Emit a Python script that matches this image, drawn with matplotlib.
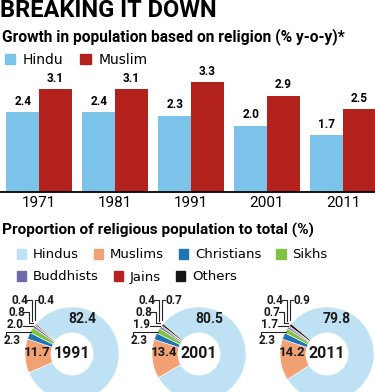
import matplotlib
matplotlib.use('Agg')
import matplotlib.pyplot as plt
import numpy as np
from matplotlib.patches import Patch
from matplotlib.lines import Line2D

# growth in population (% y-o-y)
years = ['1971', '1981', '1991', '2001', '2011']
hindu_growth = [2.4, 2.4, 2.3, 2.0, 1.7]
muslim_growth = [3.1, 3.1, 3.3, 2.9, 2.5]

# proportion of religious population (%)
religions = ['Hindus', 'Muslims', 'Christians', 'Sikhs', 'Buddhists', 'Jains', 'Others']
census_years = ['1991', '2001', '2011']
share_1991 = [82.4, 11.7, 2.3, 2.0, 0.8, 0.4, 0.4]
share_2001 = [80.5, 13.4, 2.3, 1.9, 0.8, 0.4, 0.7]
share_2011 = [79.8, 14.2, 2.3, 1.7, 0.7, 0.4, 0.9]

HINDU_C = '#7cc3ea'
MUSLIM_C = '#b3211d'
DONUT_C = ['#bfe1f4', '#f1a173', '#1f72b4', '#80c241', '#6d6aa9', '#b5221f', '#151515']
NARROW = ['Roboto', 'DejaVu Sans']
SANS = ['DejaVu Sans']

W, H = 375, 392
fig = plt.figure(figsize=(3.75, 3.92), dpi=100)
fig.patch.set_facecolor('white')


def fx(x):
    return x / W


def fy(y):
    return 1 - y / H


# titles
fig.text(fx(0), fy(17), 'BREAKING IT DOWN', family=NARROW, weight='bold',
         fontsize=17, va='baseline', ha='left')
fig.text(fx(2), fy(37), 'Growth in population based on religion (% y-o-y)*',
         family=NARROW, weight='bold', fontsize=11.2, va='center', ha='left')
fig.text(fx(2), fy(230), 'Proportion of religious population to total (%)',
         family=NARROW, weight='bold', fontsize=11.1, va='center', ha='left')

# legend 1
h1 = [Patch(color=HINDU_C, label='Hindu'), Patch(color=MUSLIM_C, label='Muslim')]
fig.legend(handles=h1, loc='center left', bbox_to_anchor=(fx(5), fy(60)), ncol=2,
           frameon=False, handlelength=0.75, handleheight=0.75, handletextpad=0.55,
           columnspacing=1.2, borderaxespad=0, borderpad=0,
           prop={'family': SANS, 'size': 10})

# bar chart
ax = fig.add_axes([0, fy(192), 1, 122 / H])
x = np.arange(len(years))
bw = 0.428
b1 = ax.bar(x - bw / 2, hindu_growth, bw, color=HINDU_C)
b2 = ax.bar(x + bw / 2, muslim_growth, bw, color=MUSLIM_C)
for bars, vals in ((b1, hindu_growth), (b2, muslim_growth)):
    ax.bar_label(bars, labels=[f'{v:.1f}' for v in vals], padding=3,
                 fontsize=8.5, family=NARROW, weight='bold')
ax.set_xlim(-0.513, 4.421)
ax.set_ylim(0, 3.67)
for s in ('top', 'left', 'right'):
    ax.spines[s].set_visible(False)
ax.spines['bottom'].set_linewidth(1.3)
ax.spines['bottom'].set_color('black')
ax.set_yticks([])
ax.set_xticks(x, years)
ax.tick_params(axis='x', length=0, pad=3, labelsize=11)
for t in ax.get_xticklabels():
    t.set_family(NARROW)

# legend 2 (two rows)
row1 = [Patch(color=DONUT_C[i], label=religions[i]) for i in range(4)]
row2 = [Patch(color=DONUT_C[i], label=religions[i]) for i in range(4, 7)]
for hs, yy in ((row1, 255), (row2, 277)):
    fig.legend(handles=hs, loc='center left', bbox_to_anchor=(fx(17), fy(yy)), ncol=len(hs),
               frameon=False, handlelength=0.7, handleheight=0.7, handletextpad=0.5,
               columnspacing=1.15, borderaxespad=0, borderpad=0,
               prop={'family': SANS, 'size': 9.5})


def line_px(pts, cx, cy):
    xs = [fx(cx + p[0]) for p in pts]
    ys = [fy(cy + p[1]) for p in pts]
    fig.add_artist(Line2D(xs, ys, transform=fig.transFigure, color='#222222', lw=0.8))


def donut(cx, cy, shares, year):
    R = 47
    dax = fig.add_axes([fx(cx - R), fy(cy + R), 2 * R / W, 2 * R / H])
    dax.pie(shares, colors=DONUT_C, startangle=140, counterclock=False, radius=1,
            wedgeprops=dict(width=0.55, edgecolor='white', linewidth=0.4))
    dax.set_xlim(-1, 1)
    dax.set_ylim(-1, 1)
    dax.axis('off')
    lab = dict(family=NARROW, weight='bold', color='#1a1a1a', va='center')
    fig.text(fx(cx), fy(cy - 1), year, ha='center', fontsize=11.5, **lab)
    fig.text(fx(cx + 10), fy(cy - 35), f'{shares[0]:.1f}', ha='center', fontsize=10, **lab)
    fig.text(fx(cx - 35), fy(cy - 1), f'{shares[1]:.1f}', ha='center', fontsize=9.5, **lab)
    # small slices
    fig.text(fx(cx - 60), fy(cy - 13), f'{shares[2]:.1f}', ha='center', fontsize=8.5, **lab)
    fig.text(fx(cx - 57), fy(cy - 30), f'{shares[3]:.1f}', ha='center', fontsize=8.5, **lab)
    fig.text(fx(cx - 55), fy(cy - 42), f'{shares[4]:.1f}', ha='center', fontsize=8.5, **lab)
    fig.text(fx(cx - 52), fy(cy - 54), f'{shares[5]:.1f}', ha='center', fontsize=8.5, **lab)
    fig.text(fx(cx - 34), fy(cy - 54), f'{shares[6]:.1f}', ha='left', fontsize=8.5, **lab)
    line_px([(-66, -19), (-66, -22), (-41, -22)], cx, cy)
    line_px([(-49, -28), (-39, -28)], cx, cy)
    line_px([(-48, -42), (-43, -42), (-43, -31), (-39, -31)], cx, cy)
    line_px([(-45, -54), (-40, -54), (-40, -33)], cx, cy)
    line_px([(-34, -54), (-37, -54), (-37, -34)], cx, cy)


for cx, shares, yr in zip([72, 199, 327], [share_1991, share_2001, share_2011], census_years):
    donut(cx, 354, shares, yr)

fig.savefig('out.png', dpi=100, facecolor='white')
